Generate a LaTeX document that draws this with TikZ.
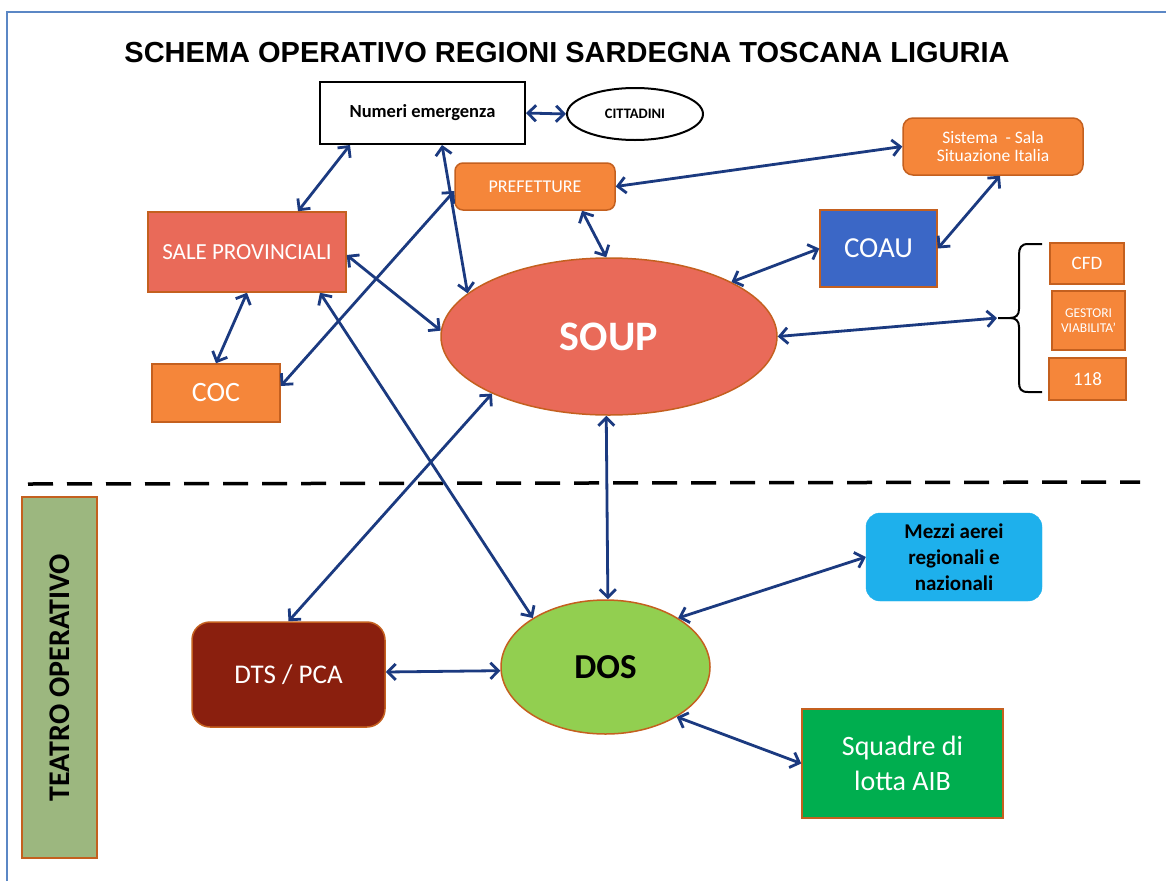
\documentclass[tikz,border=0pt]{standalone}
\usepackage{fontspec}
\setmainfont{Carlito}
\newfontfamily\arialfont{Liberation Sans}
\usetikzlibrary{arrows.meta,shapes.geometric,calc}
\definecolor{orng}{HTML}{F5863A}
\definecolor{bord}{HTML}{C4601F}
\definecolor{salmon}{HTML}{E96A59}
\definecolor{coaublue}{HTML}{3B67C6}
\definecolor{dtsred}{HTML}{8A1F0E}
\definecolor{dosgreen}{HTML}{92CF50}
\definecolor{skyb}{HTML}{1EB0EC}
\definecolor{squag}{HTML}{00AE4F}
\definecolor{teatg}{HTML}{9CB77F}
\definecolor{navy}{HTML}{1B3A80}
\definecolor{framebl}{HTML}{5B87C5}
\newcommand{\fs}[1]{\fontsize{#1}{#1}\selectfont}
\begin{document}
\begin{tikzpicture}[x=1pt,y=-1pt,
  box/.style={draw=bord, line width=1.5pt, inner sep=0pt, align=center, text=white},
  obox/.style={box, fill=orng},
  arr/.style={draw=navy, line width=2.8pt, {Straight Barb[length=8pt,width=16pt]}-{Straight Barb[length=8pt,width=16pt]}}
]
\useasboundingbox (0,0) rectangle (1166,881);
\fill[white] (0,0) rectangle (1166,881);
% frame
\draw[framebl, line width=2pt] (7,881) -- (7,12) -- (1166,12);
% title
\node[anchor=base, font=\arialfont\bfseries\fs{29}, inner sep=0] (title) at (567,62) {SCHEMA OPERATIVO REGIONI SARDEGNA TOSCANA LIGURIA};
% dashed separator
\draw[black, line width=3.5pt, dash pattern=on 25pt off 14pt] (28,484) -- (1140,482);
% nodes
\node[draw=black, line width=2pt, fill=white, minimum width=205pt, minimum height=62pt, inner sep=0, font=\bfseries\fs{18.5}] (nume) at (422.5,113) {Numeri emergenza};
\node[ellipse, draw=black, line width=2pt, fill=white, minimum width=136pt, minimum height=52pt, inner sep=0, font=\bfseries\fs{14.5}] (citt) at (635,114) {CITTADINI};
\node[obox, rounded corners=8pt, minimum width=160pt, minimum height=47pt, font=\fs{18}] (pref) at (535,186.5) {PREFETTURE};
\node[obox, rounded corners=10pt, minimum width=180pt, minimum height=57pt, font=\fs{17.5}] (sist) at (993,146.5) {Sistema~ - Sala\\[1pt]Situazione Italia};
\node[box, fill=coaublue, minimum width=117pt, minimum height=77pt, font=\fs{29}] (coau) at (878.5,248.5) {COAU};
\node[box, fill=salmon, minimum width=198pt, minimum height=80pt, font=\fs{23}] (sale) at (247,252) {SALE PROVINCIALI};
\node[obox, minimum width=128pt, minimum height=58pt, font=\fs{28}] (coc) at (216,393) {COC};
\node[ellipse, box, fill=salmon, minimum width=336pt, minimum height=157pt, font=\bfseries\fs{42}] (soup) at (609,336.5) {SOUP};
\node[obox, minimum width=74pt, minimum height=41pt, font=\fs{19}] (cfd) at (1087,263.5) {CFD};
\node[obox, minimum width=73pt, minimum height=59pt, font=\fs{13.5}] (gest) at (1088.5,320.5) {GESTORI\\[1pt]VIABILITA'};
\node[obox, minimum width=77pt, minimum height=42pt, font=\fs{19}] (n118) at (1087.5,379) {118};
% brace
\draw[black, line width=2pt] (1042,244) -- (1028,244) .. controls (1021,244) and (1019,248) .. (1019,255) -- (1019,309) .. controls (1019,315) and (1016,318) .. (1010,318) -- (998,318);
\draw[black, line width=2pt] (1010,318) .. controls (1016,318) and (1019,321) .. (1019,327) -- (1019,382) .. controls (1019,389) and (1021,392) .. (1028,392) -- (1042,392);
\coordinate (brtip) at (997,318);
% lower part
\node[box, fill=teatg, minimum width=75pt, minimum height=361pt, text=black] (teat) at (59.5,677.5) {};
\node[rotate=90, font=\bfseries\fs{30}, inner sep=0] (teattxt) at (teat.center) {TEATRO OPERATIVO};
\node[box, fill=dtsred, rounded corners=18pt, minimum width=193pt, minimum height=105pt, font=\fs{27}] (dts) at (288.5,674.5) {DTS / PCA};
\node[ellipse, box, fill=dosgreen, text=black, minimum width=209pt, minimum height=134pt, font=\bfseries\fs{35}] (dos) at (605.5,667) {DOS};
\node[draw=skyb, fill=skyb, rounded corners=14pt, minimum width=176pt, minimum height=88pt, inner sep=0, align=center, font=\bfseries\fs{21}] (mezzi) at (954,557) {Mezzi aerei\\[5pt]regionali e\\[5pt]nazionali};
\node[box, fill=squag, minimum width=201pt, minimum height=109pt, font=\fs{28}] (squa) at (902.5,763.5) {Squadre di\\[7pt]lotta AIB};
% connectors
\draw[arr] (nume.east) -- (citt.west);
\draw[arr] ([xshift=-72.5pt]nume.south) -- ([xshift=51pt]sale.north);
\draw[arr] ([xshift=19.5pt]nume.south) -- (soup.163);
\draw[arr] ([yshift=-4.5pt]pref.west) -- ([yshift=7pt]coc.east);
\draw[arr] ([xshift=47pt]pref.south) -- (soup.92);
\draw[arr] (pref.east) -- (sist.west);
\draw[arr] ([xshift=7pt]sist.south) -- (coau.east);
\draw[arr] (coau.west) -- (soup.24);
\draw[arr] (soup.east) -- (brtip);
\draw[arr] ([yshift=-3pt]sale.east) -- (soup.178);
\draw[arr] (sale.south) -- (coc.north);
\draw[arr] ([xshift=73pt]sale.south) -- (dos.146);
\draw[arr] (soup.206) -- (dts.north);
\draw[arr] (soup.268) -- (dos.88);
\draw[arr] ([yshift=2.5pt]dts.east) -- (dos.182);
\draw[arr] (dos.34) -- (mezzi.west);
\draw[arr] (dos.325) -- (squa.west);
\end{tikzpicture}
\end{document}
